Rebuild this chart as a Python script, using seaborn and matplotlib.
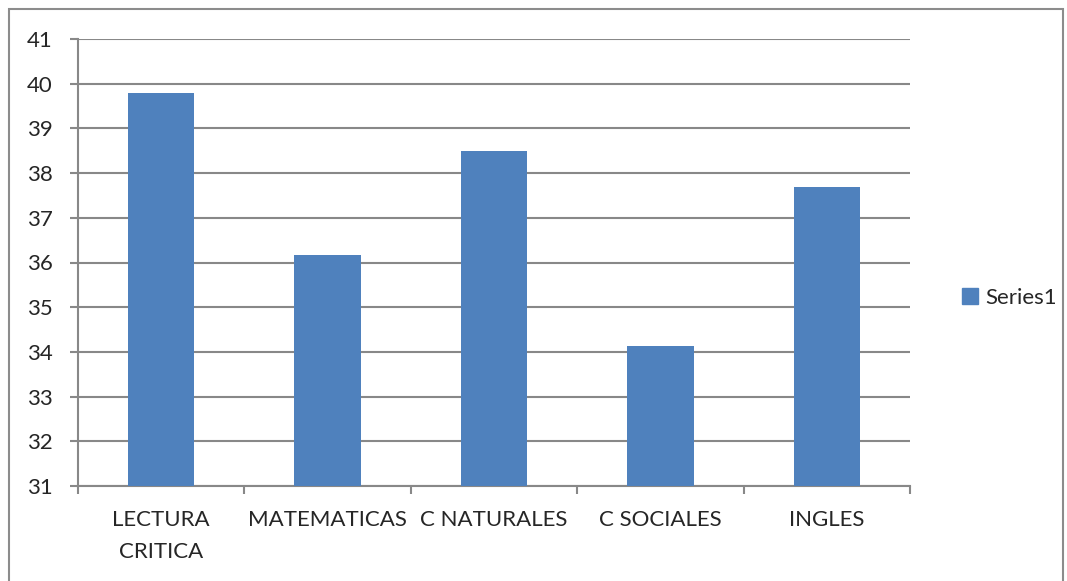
import numpy as np
import pandas as pd
import matplotlib
matplotlib.use("Agg")
import matplotlib.pyplot as plt
import seaborn as sns
from matplotlib.patches import Rectangle, Patch

materias = ["LECTURA\nCRITICA", "MATEMATICAS", "C NATURALES", "C SOCIALES", "INGLES"]
puntajes = [39.8, 36.17, 38.5, 34.13, 37.68]
serie = "Series1"

df = pd.DataFrame({"materia": materias, "puntaje": puntajes})

sns.set_style("white")
plt.rcParams["font.family"] = ["Lato", "DejaVu Sans"]

fig = plt.figure(figsize=(10.67, 5.81), dpi=100)
ax = fig.add_axes([78 / 1067, 1 - 486 / 581, 832 / 1067, 447 / 581])

sns.barplot(data=df, x="materia", y="puntaje", color="#4F81BD", width=0.4,
            saturation=1, linewidth=0, ax=ax, zorder=3)

gris = "#888888"
ax.set_ylim(31, 41)
ax.set_xlim(-0.5, 4.5)
ax.set_yticks(np.arange(31, 42, 1))
ax.yaxis.grid(True, color=gris, linewidth=1.5, zorder=0)
ax.set_axisbelow(True)
ax.set_xlabel("")
ax.set_ylabel("")

for s in ["top", "right"]:
    ax.spines[s].set_visible(False)
for s in ["left", "bottom"]:
    ax.spines[s].set_color(gris)
    ax.spines[s].set_linewidth(1.5)

ax.tick_params(axis="y", length=6, width=1.5, color=gris, labelsize=16, pad=12, left=True)
ax.set_xticks(range(len(materias)))
ax.set_xticklabels(materias, linespacing=1.75)
ax.tick_params(axis="x", which="major", length=0, labelsize=16, pad=17)
ax.set_xticks(np.arange(-0.5, 5, 1), minor=True)
ax.tick_params(axis="x", which="minor", length=6, width=1.5, color=gris, bottom=True)

leg = fig.legend(handles=[Patch(color="#4F81BD", label=serie)], loc="center left",
                 bbox_to_anchor=(0.883, 0.487), frameon=False, fontsize=16,
                 handlelength=0.7, handleheight=0.7, handletextpad=0.35)

fig.patches.append(Rectangle((9 / 1067, -0.01), 1054 / 1067, 1 - 9 / 581 + 0.01,
                             transform=fig.transFigure, fill=False,
                             edgecolor="#8c8c8c", linewidth=1.5))

fig.savefig("out.png", dpi=100)
